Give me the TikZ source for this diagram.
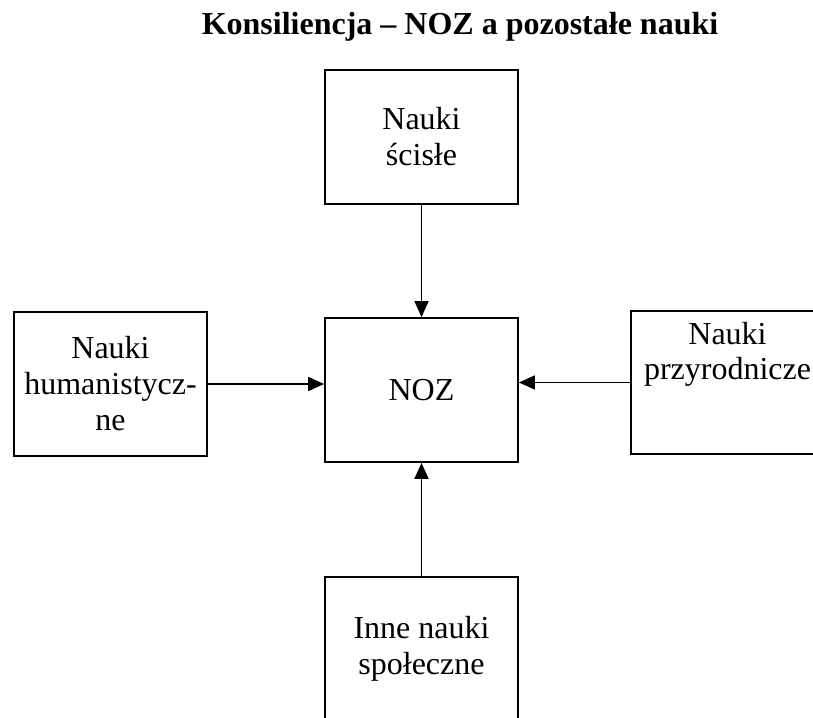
\documentclass[tikz,border=0pt]{standalone}
\usepackage{fontspec}
\setmainfont{Liberation Serif}
\usetikzlibrary{arrows.meta, positioning}

\tikzset{
    box/.style={draw, line width=1.7pt, minimum width=193pt, minimum height=144pt,
        align=center, font=\fontsize{32}{36}\selectfont},
    arr/.style={line width=1.5pt, -{Triangle[length=16pt,width=14pt]}}
}

\begin{document}
\begin{tikzpicture}[x=1pt,y=-1pt]
    \useasboundingbox (0,0) rectangle (813,717);
    \clip (0,0) rectangle (813,717);

    % title
    \node[font=\fontsize{32}{36}\selectfont\bfseries, anchor=base] (title) at (460,35) {Konsiliencja -- NOZ a pozostałe nauki};

    % boxes
    \node[box, minimum height=134pt] (scisle) at (421.5,137) {Nauki\\ścisłe};
    \node[box] (noz) at (421.5,390) {NOZ};
    \node[box] (human) at (110.5,384) {Nauki\\humanistycz-\\ne};
    \node[box, minimum height=143pt,
        label={[anchor=north, align=center, yshift=-9pt, font=\fontsize{32}{35}\selectfont]north:Nauki\\przyrodnicze}] (przyr) at (727.5,382.5) {};
    \node[box] (spol) at (421.5,649) {Inne nauki\\społeczne};

    % arrows
    \draw[arr] (scisle) -- (noz);
    \draw[arr] (spol) -- (noz);
    \draw[arr] (human.east) -- (human.east -| noz.west);
    \draw[arr] (przyr.west) -- (przyr.west -| noz.east);
\end{tikzpicture}
\end{document}
